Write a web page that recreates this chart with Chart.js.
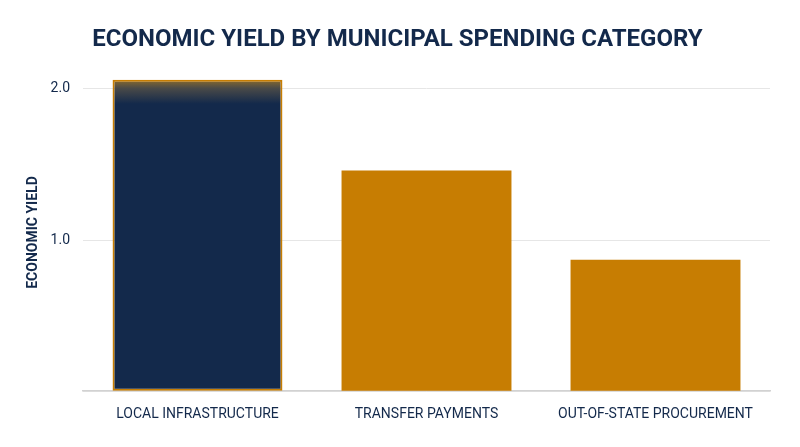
<!DOCTYPE html>
<html>
<head>
<meta charset="utf-8">
<script src="https://cdn.jsdelivr.net/npm/chart.js@4"></script>
<style>
  html, body { margin: 0; padding: 0; background: #ffffff; }
  #wrap { width: 800px; height: 447px; }
</style>
</head>
<body>
<div id="wrap"><canvas id="js--chart"></canvas></div>
<script>
// categorieen en waarden
const categories = [
    "LOCAL INFRASTRUCTURE",
    "TRANSFER PAYMENTS",
    "OUT-OF-STATE PROCUREMENT",
];
const yieldValues = [2.06, 1.46, 0.87];
const yTicks = [1.0, 2.0];

const navy = '#13294B';
const gold = '#C77D02';

// eerste balk donkerblauw met een verloop bovenaan
function barFill(ctx) {
    if (ctx.dataIndex !== 0) return gold;
    const chart = ctx.chart;
    const y = chart.scales.y;
    if (!y || !chart.chartArea) return navy;
    const top = y.getPixelForValue(yieldValues[0]);
    const g = chart.ctx.createLinearGradient(0, top, 0, top + 24);
    g.addColorStop(0, '#8a6a2c');
    g.addColorStop(0.35, '#4a4a48');
    g.addColorStop(1, navy);
    return g;
}

const data = {
    labels: categories,
    datasets: [
        {
            label: "Economic yield",
            data: yieldValues,
            backgroundColor: barFill,
            borderColor: (ctx) => ctx.dataIndex === 0 ? gold : 'rgba(0,0,0,0)',
            borderWidth: (ctx) => ctx.dataIndex === 0 ? 2 : 0,
            borderSkipped: false,
            barPercentage: 0.742,
            categoryPercentage: 1.0,
        }
    ]
};

const config = {
    type: 'bar',
    data: data,
    options: {
        responsive: true,
        maintainAspectRatio: false,
        animation: false,
        layout: { padding: { left: 25, right: 30, top: 0, bottom: 17 } },
        plugins: {
            legend: { display: false },
            tooltip: { enabled: false },
            title: {
                display: true,
                text: "ECONOMIC YIELD BY MUNICIPAL SPENDING CATEGORY",
                color: navy,
                font: { family: 'Roboto', size: 24, weight: 'bold' },
                padding: { top: 26, bottom: 19 },
            },
        },
        scales: {
            x: {
                grid: { display: false },
                border: { display: true, color: '#d2d2d2', width: 1.5 },
                ticks: {
                    color: navy,
                    padding: 7,
                    font: { family: 'Roboto', size: 14 },
                    maxRotation: 0,
                },
            },
            y: {
                min: 0,
                max: 2.1,
                afterFit: (s) => { s.width = 58; },
                afterBuildTicks: (s) => {
                    s.ticks = [0].concat(yTicks).map(v => ({ value: v }));
                },
                grid: { color: '#e6e6e6', lineWidth: 1, drawTicks: false },
                border: { display: false },
                ticks: {
                    color: navy,
                    padding: 13,
                    font: { family: 'Roboto', size: 14 },
                    callback: (v) => v === 0 ? '' : Number(v).toFixed(1),
                },
                title: {
                    display: true,
                    text: "ECONOMIC YIELD",
                    color: navy,
                    padding: { top: 0, bottom: 4 },
                    font: { family: 'Roboto', size: 14, weight: 'bold' },
                },
            },
        },
    },
};

const chart = new Chart(document.getElementById("js--chart"), config);
</script>
</body>
</html>
